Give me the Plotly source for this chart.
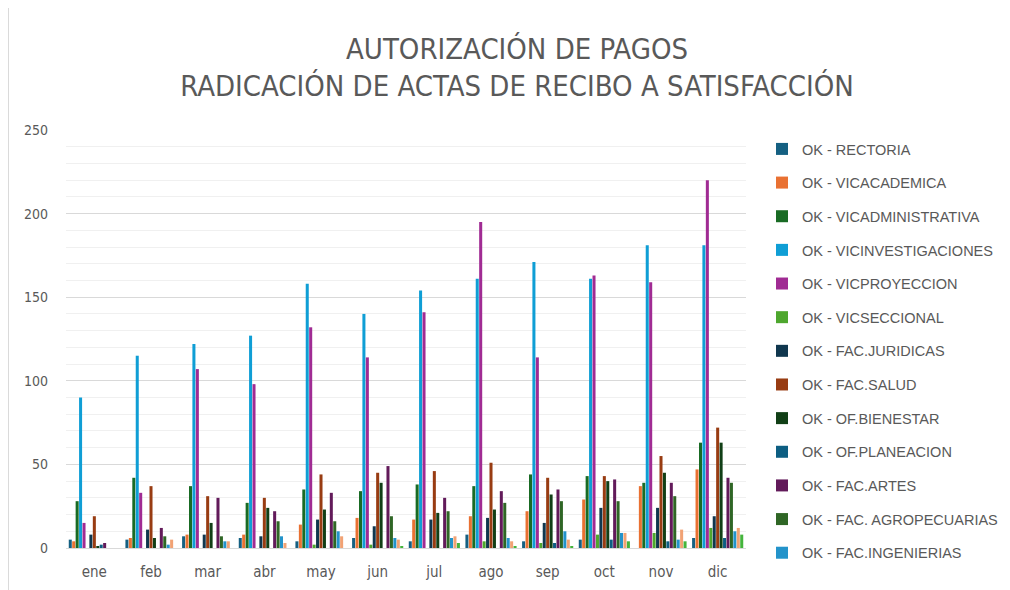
import plotly.graph_objects as go

months = ["ene", "feb", "mar", "abr", "may", "jun", "jul", "ago", "sep", "oct", "nov", "dic"]

rectoria = [5, 5, 7, 6, 4, 6, 4, 8, 4, 5, 0, 6]
vicacademica = [4, 6, 8, 8, 14, 18, 17, 19, 22, 29, 37, 47]
vicadministrativa = [28, 42, 37, 27, 35, 34, 38, 37, 44, 43, 39, 63]
vicinvestigaciones = [90, 115, 122, 127, 158, 140, 154, 161, 171, 161, 181, 181]
vicproyeccion = [15, 33, 107, 98, 132, 114, 141, 195, 114, 163, 159, 220]
vicseccional = [0, 0, 0, 0, 2, 2, 0, 4, 3, 8, 9, 12]
juridicas = [8, 11, 8, 7, 17, 13, 17, 18, 15, 24, 24, 19]
salud = [19, 37, 31, 30, 44, 45, 46, 51, 42, 43, 55, 72]
bienestar = [1, 6, 15, 24, 23, 39, 21, 23, 32, 40, 45, 63]
planeacion = [2, 0, 0, 0, 0, 0, 0, 0, 3, 5, 4, 6]
artes = [3, 12, 30, 22, 33, 49, 30, 34, 35, 41, 39, 42]
agropecuarias = [0, 7, 7, 16, 16, 19, 22, 27, 28, 28, 31, 39]
ingenierias = [0, 2, 4, 7, 10, 6, 6, 6, 10, 9, 5, 10]
serie14 = [0, 5, 4, 3, 7, 5, 7, 4, 5, 9, 11, 12]
serie15 = [0, 0, 0, 0, 0, 1, 3, 1, 1, 4, 4, 8]

series = [
    ("OK - RECTORIA", rectoria, "#156082", True),
    ("OK - VICACADEMICA", vicacademica, "#E97132", True),
    ("OK - VICADMINISTRATIVA", vicadministrativa, "#196B24", True),
    ("OK - VICINVESTIGACIONES", vicinvestigaciones, "#0F9ED5", True),
    ("OK - VICPROYECCION", vicproyeccion, "#A02B93", True),
    ("OK - VICSECCIONAL", vicseccional, "#4EA72E", True),
    ("OK - FAC.JURIDICAS", juridicas, "#10374E", True),
    ("OK - FAC.SALUD", salud, "#983C12", True),
    ("OK - OF.BIENESTAR", bienestar, "#113F16", True),
    ("OK - OF.PLANEACION", planeacion, "#0D5E82", True),
    ("OK - FAC.ARTES", artes, "#621A5A", True),
    ("OK - FAC. AGROPECUARIAS", agropecuarias, "#2F6625", True),
    ("OK - FAC.INGENIERIAS", ingenierias, "#2393CA", True),
    ("OK - SERIE 14", serie14, "#F1A274", False),
    ("OK - SERIE 15", serie15, "#45B43C", False),
]

narrow = "DejaVu Sans Condensed, DejaVu Sans, sans-serif"
grey = "#595959"

# page body adds an 8px offset; figure coordinates below compensate for it
L, R, T, B = 57.6, 738.4, 122, 540
W, H = 1010, 590

fig = go.Figure()
for i, (name, vals, color, show) in enumerate(series):
    fig.add_trace(go.Bar(
        x=months, y=vals, name=name, marker=dict(color=color, line=dict(width=0)),
        showlegend=show, legendgroup=f"g{i}",
    ))

fig.update_layout(
    width=W, height=H,
    margin=dict(l=L, r=W - R, t=T, b=H - B, autoexpand=False),
    paper_bgcolor="white", plot_bgcolor="white",
    barmode="group", bargap=0.09, bargroupgap=0.12,
    title=dict(
        text="AUTORIZACIÓN DE PAGOS<br>RADICACIÓN DE ACTAS DE RECIBO A SATISFACCIÓN",
        x=509 / W, xref="container", xanchor="center",
        y=1 - 50.5 / H, yref="container", yanchor="middle",
        font=dict(family=narrow, size=29, color=grey),
    ),
    xaxis=dict(
        showline=True, linecolor="#d9d9d9", linewidth=1,
        ticks="", tickfont=dict(family=narrow, size=15, color=grey),
        ticklabelstandoff=10,
    ),
    yaxis=dict(
        range=[0, 250], dtick=50, showgrid=True, gridcolor="#d9d9d9", gridwidth=1,
        zeroline=False, showline=False, ticks="",
        tickfont=dict(family=narrow, size=14, color=grey),
        ticklabelstandoff=17,
        minor=dict(dtick=10, showgrid=True, gridcolor="#f0f0f0", gridwidth=1),
    ),
    legend=dict(
        xref="container", yref="container",
        x=754 / W, xanchor="left", y=1 - 125 / H, yanchor="top",
        font=dict(family="Liberation Sans, Arial, sans-serif", size=14.5, color=grey),
        traceorder="grouped", tracegroupgap=11.8, maxheight=560,
        itemclick=False, bgcolor="rgba(0,0,0,0)",
    ),
    shapes=[dict(type="line", xref="paper", yref="paper",
                 x0=-L / (R - L), x1=-L / (R - L), y0=-(H - B) / (B - T), y1=B / (B - T),
                 line=dict(color="#d9d9d9", width=1))],
)

fig.write_html("out.html")
